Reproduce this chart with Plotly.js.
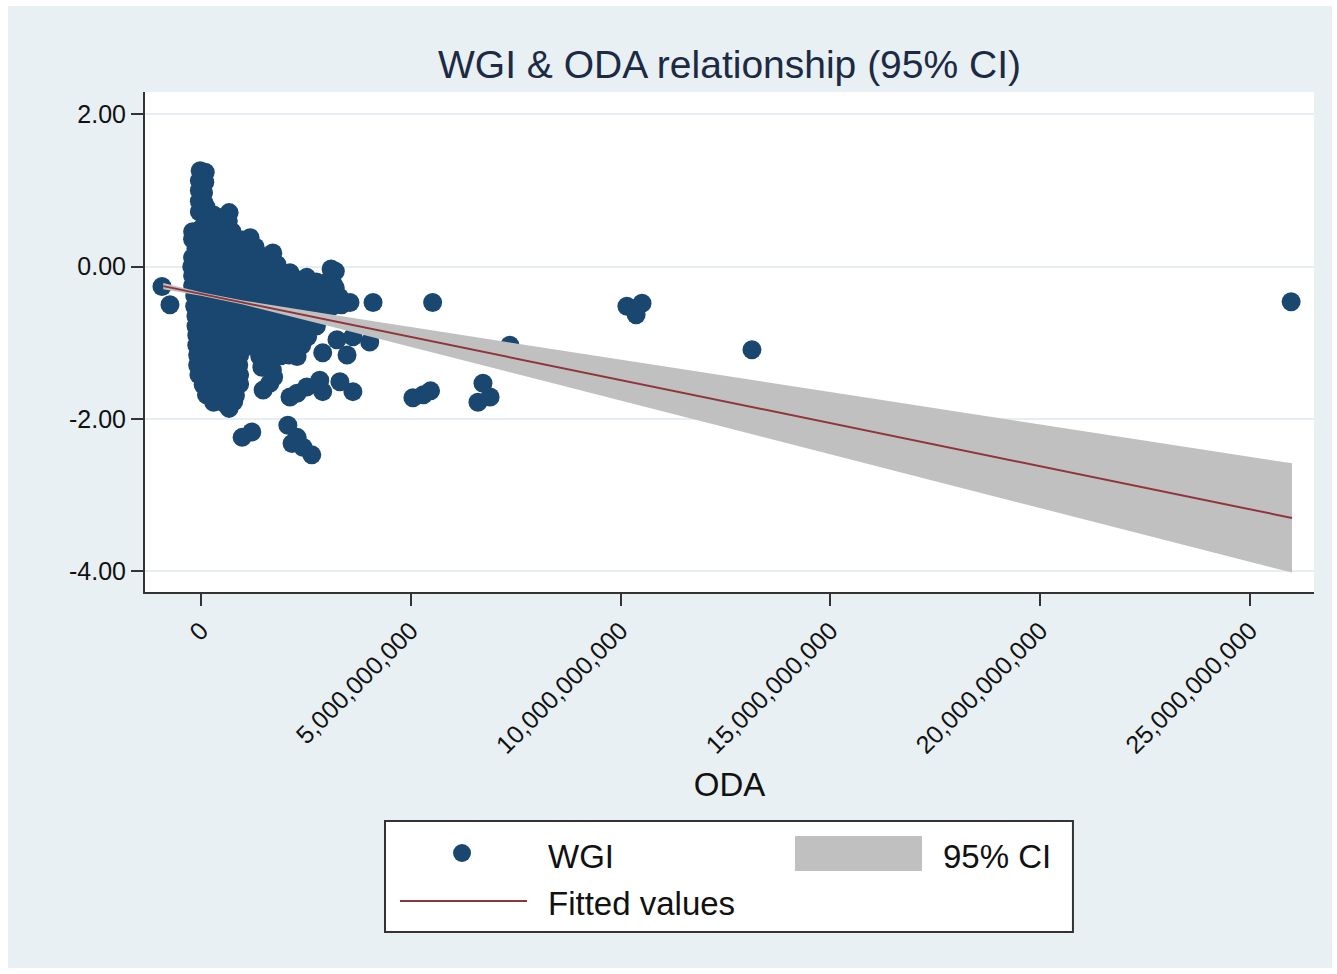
<!DOCTYPE html>
<html><head><meta charset="utf-8">
<script src="https://cdn.plot.ly/plotly-3.0.1.min.js"></script>
<style>html,body{margin:0;padding:0;background:#ffffff;}#chart{position:absolute;left:8px;top:6px;width:1324px;height:962px;}</style>
</head><body><div id="chart"></div>
<script>
// ODA in billions (axis labelled in full units), WGI score
const odaBn = [
  -0.02,0.10,-0.04,0.09,-0.04,0.06,-0.04,0.07,0.12,-0.04,0.10,
  0.30,0.48,0.67,0.65,0.20,
  -0.20,0.00,0.20,0.40,0.58,0.74,
  -0.20,0.02,0.25,0.50,0.75,0.98,1.17,
  -0.12,0.14,0.40,0.65,0.90,1.12,1.29,
  -0.20,0.05,0.30,0.55,0.80,1.05,1.30,1.52,1.71,
  -0.22,0.00,0.25,0.50,0.75,1.00,1.25,1.50,1.68,1.81,
  -0.20,0.05,0.30,0.55,0.80,1.05,1.30,1.55,1.80,2.00,2.12,
  3.10,3.20,2.30,2.52,2.75,2.98,3.14,
  -0.20,0.05,0.30,0.55,0.80,1.05,1.30,1.55,1.80,2.05,2.30,2.55,2.80,3.05,3.20,
  -0.15,0.10,0.35,0.60,0.85,1.10,1.35,1.60,1.85,2.10,2.35,2.60,2.85,3.10,3.30,
  -0.15,0.10,0.35,0.60,0.85,1.10,1.35,1.60,1.85,2.10,2.35,2.60,2.85,3.10,3.35,
  3.55,4.10,5.52,-0.93,-0.74,
  -0.12,0.13,0.38,0.63,0.88,1.13,1.38,1.63,1.88,2.13,2.38,2.63,2.85,
  -0.12,0.13,0.38,0.63,0.88,1.13,1.38,1.63,1.88,2.10,2.50,2.75,
  -0.10,0.15,0.40,0.65,0.90,1.15,1.40,1.65,1.90,2.15,2.40,2.54,
  3.24,3.62,4.02,3.48,2.90,2.29,
  -0.10,0.15,0.40,0.65,0.90,1.15,1.40,1.65,1.90,2.15,2.40,
  -0.08,0.17,0.42,0.67,0.92,1.40,1.65,1.90,2.10,
  -0.08,0.17,0.42,0.67,0.90,1.45,1.70,1.73,1.64,1.48,
  -0.05,0.20,0.45,0.70,0.92,
  0.05,0.28,0.52,0.76,0.92,
  0.13,0.37,0.60,0.82,
  0.30,0.55,0.78,0.67,
  2.12,2.29,2.52,2.83,2.90,3.31,3.62,
  0.98,1.21,2.07,2.17,2.29,2.43,2.64,
  5.05,5.30,5.47,6.60,6.72,6.89,7.36,10.15,10.51,10.37,13.13,25.98
];
const wgi = [
  1.26,1.24,1.13,1.11,1.00,0.97,0.86,0.84,0.78,0.72,0.70,
  0.68,0.64,0.71,0.60,0.58,
  0.46,0.50,0.47,0.50,0.47,0.46,
  0.36,0.35,0.36,0.35,0.37,0.35,0.38,
  0.24,0.23,0.24,0.23,0.24,0.23,0.26,
  0.12,0.11,0.12,0.11,0.12,0.11,0.12,0.13,0.18,
  0.00,-0.01,0.00,-0.01,0.00,-0.01,0.00,-0.01,0.01,0.03,
  -0.12,-0.13,-0.12,-0.13,-0.12,-0.13,-0.12,-0.13,-0.12,-0.10,-0.08,
  -0.03,-0.06,-0.17,-0.14,-0.20,-0.21,-0.22,
  -0.25,-0.26,-0.25,-0.26,-0.25,-0.26,-0.25,-0.26,-0.25,-0.26,-0.25,-0.26,-0.25,-0.26,-0.28,
  -0.38,-0.39,-0.38,-0.39,-0.38,-0.39,-0.38,-0.39,-0.38,-0.39,-0.38,-0.39,-0.38,-0.39,-0.40,
  -0.52,-0.53,-0.52,-0.53,-0.52,-0.53,-0.52,-0.53,-0.52,-0.53,-0.52,-0.53,-0.52,-0.53,-0.50,
  -0.47,-0.47,-0.47,-0.26,-0.50,
  -0.65,-0.66,-0.65,-0.66,-0.65,-0.66,-0.65,-0.66,-0.65,-0.66,-0.65,-0.66,-0.64,
  -0.78,-0.79,-0.78,-0.79,-0.78,-0.79,-0.78,-0.79,-0.78,-0.80,-0.79,-0.78,
  -0.90,-0.91,-0.90,-0.91,-0.90,-0.91,-0.90,-0.91,-0.90,-0.91,-0.90,-0.92,
  -0.96,-0.92,-0.99,-1.16,-1.13,-1.18,
  -1.03,-1.04,-1.03,-1.04,-1.03,-1.04,-1.03,-1.04,-1.03,-1.04,-1.03,
  -1.16,-1.17,-1.16,-1.17,-1.16,-1.18,-1.16,-1.17,-1.16,
  -1.29,-1.30,-1.29,-1.30,-1.29,-1.32,-1.36,-1.45,-1.53,-1.62,
  -1.42,-1.43,-1.42,-1.43,-1.42,
  -1.55,-1.56,-1.55,-1.56,-1.54,
  -1.68,-1.69,-1.68,-1.69,
  -1.78,-1.79,-1.77,-1.86,
  -1.71,-1.66,-1.58,-1.49,-1.64,-1.51,-1.64,
  -2.24,-2.17,-2.08,-2.32,-2.24,-2.37,-2.47,
  -1.72,-1.68,-1.63,-1.78,-1.53,-1.71,-1.03,-0.52,-0.48,-0.63,-1.09,-0.46
];

// fitted line end points
const fitX = [-0.90, 26.00];
const fitY = [-0.255, -3.298];

// 95% CI band
const ciX  = [-0.90, 0, 1, 2, 3, 4, 5, 6, 7, 8, 10, 12, 14, 16, 18, 20, 22, 24, 26.00];
const ciHi = [-0.213,-0.334,-0.444,-0.534,-0.621,-0.706,-0.793,-0.879,-0.964,-1.049,-1.219,-1.389,-1.559,-1.730,-1.900,-2.070,-2.240,-2.410,-2.581];
const ciLo = [-0.297,-0.380,-0.496,-0.632,-0.772,-0.912,-1.053,-1.193,-1.334,-1.475,-1.757,-2.039,-2.321,-2.604,-2.886,-3.168,-3.450,-3.732,-4.015];

const xTickVals = [0, 5, 10, 15, 20, 25];
const xTickText = ['0','5,000,000,000','10,000,000,000','15,000,000,000','20,000,000,000','25,000,000,000'];
const yTickVals = [-4, -2, 0, 2];
const yTickText = ['-4.00','-2.00','0.00','2.00'];

const FONT = '"Liberation Sans", Arial, Helvetica, sans-serif';
const NAVY = '#1a476f';
const MAROON = '#90353b';
const CIGRAY = '#c0c0c0';

const traces = [
  {type:'scatter', mode:'markers', name:'WGI', x:odaBn, y:wgi,
   marker:{size:19, color:NAVY, line:{width:0}}, hoverinfo:'skip'},
  {type:'scatter', mode:'lines', name:'95% CI',
   x:ciX.concat(ciX.slice().reverse()), y:ciHi.concat(ciLo.slice().reverse()),
   fill:'toself', fillcolor:CIGRAY, line:{width:0, color:CIGRAY}, hoverinfo:'skip'},
  {type:'scatter', mode:'lines', name:'Fitted values', x:fitX, y:fitY,
   line:{width:2, color:MAROON}, hoverinfo:'skip'}
];

const layout = {
  width:1324, height:962,
  paper_bgcolor:'#e8f0f3', plot_bgcolor:'#ffffff',
  margin:{l:137, r:18, t:86, b:376},
  showlegend:false,
  font:{family:FONT, color:'#000000'},
  title:{text:'WGI & ODA relationship (95% CI)', font:{family:FONT, size:39, color:'#1c2a44'},
         x:0.5, xref:'paper', xanchor:'center', y:1-58/962, yref:'container', yanchor:'middle'},
  xaxis:{range:[-1.335, 26.525], tickmode:'array', tickvals:xTickVals, ticktext:xTickText,
         tickangle:-45, ticks:'outside', ticklen:12, tickwidth:2, tickcolor:'#333333',
         showline:true, linecolor:'#333333', linewidth:2, showgrid:false, zeroline:false,
         tickfont:{size:25, color:'#111111'}, automargin:false,
         title:{text:'ODA', font:{size:33, color:'#111111'}, standoff:15}},
  yaxis:{range:[-4.27, 2.293], tickmode:'array', tickvals:yTickVals, ticktext:yTickText,
         ticks:'outside', ticklen:12, tickwidth:2, tickcolor:'#333333',
         showline:true, linecolor:'#333333', linewidth:2, showgrid:true,
         gridcolor:'#e6eef1', gridwidth:2, zeroline:false,
         tickfont:{size:25, color:'#111111'}, automargin:false},
  shapes:[
    {type:'rect', xref:'paper', yref:'paper', x0:0.2053, x1:0.7938, y0:-0.458, y1:-0.680,
     line:{color:'#333333', width:2}, fillcolor:'#ffffff', layer:'above'},
    {type:'rect', xref:'paper', yref:'paper', x0:0.556, x1:0.6647, y0:-0.488, y1:-0.558,
     line:{width:0}, fillcolor:CIGRAY, layer:'above'},
    {type:'line', xref:'paper', yref:'paper', x0:0.2181, x1:0.3268, y0:-0.618, y1:-0.618,
     line:{color:MAROON, width:2}, layer:'above'},
    {type:'circle', xref:'paper', yref:'paper', xsizemode:'pixel', ysizemode:'pixel',
     xanchor:0.2712, yanchor:-0.522, x0:-9, x1:9, y0:-9, y1:9,
     line:{width:0}, fillcolor:NAVY, layer:'above'}
  ],
  annotations:[
    {text:'WGI', xref:'paper', yref:'paper', x:0.3430, y:-0.528, xanchor:'left', yanchor:'middle',
     showarrow:false, font:{size:33, color:'#111111'}},
    {text:'95% CI', xref:'paper', yref:'paper', x:0.6805, y:-0.528, xanchor:'left', yanchor:'middle',
     showarrow:false, font:{size:33, color:'#111111'}},
    {text:'Fitted values', xref:'paper', yref:'paper', x:0.3430, y:-0.622, xanchor:'left', yanchor:'middle',
     showarrow:false, font:{size:33, color:'#111111'}}
  ]
};

Plotly.newPlot('chart', traces, layout, {displayModeBar:false, staticPlot:true});
</script></body></html>
